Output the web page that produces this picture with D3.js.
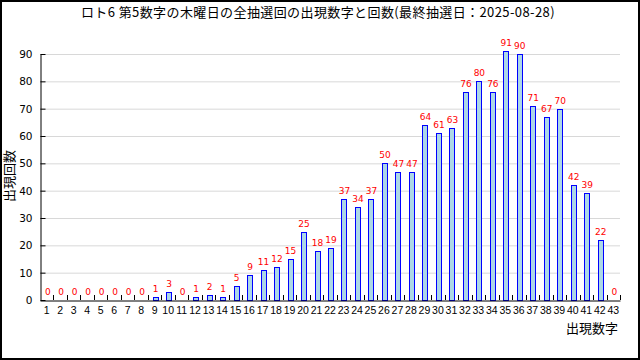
<!DOCTYPE html>
<html>
<head>
<meta charset="utf-8">
<script src="https://cdn.jsdelivr.net/npm/d3@7"></script>
<style>
  body { margin: 0; background: #fff; }
  svg { display: block; }
</style>
</head>
<body>
<div class="canvas"></div>
<script>
// data
const numbers = d3.range(1, 44).map(String)
const counts = [0, 0, 0, 0, 0, 0, 0, 0, 1, 3,
                0, 1, 2, 1, 5, 9, 11, 12, 15, 25,
                18, 19, 37, 34, 37, 50, 47, 47, 64, 61,
                63, 76, 80, 76, 91, 90, 71, 67, 70, 42,
                39, 22, 0]
const yTicks = [0, 10, 20, 30, 40, 50, 60, 70, 80, 90]
const title = 'ロト6 第5数字の木曜日の全抽選回の出現数字と回数(最終抽選日：2025-08-28)'

const data = numbers.map((n, i) => ({ n, v: counts[i] }))

const W = 640, H = 360
const margin = { top: 54, right: 20, bottom: 60, left: 40 }

const svg = d3.select('.canvas').append('svg')
  .attr('width', W)
  .attr('height', H)

// outer frame
svg.append('rect')
  .attr('x', 1).attr('y', 1)
  .attr('width', W - 2).attr('height', H - 2)
  .attr('fill', '#fff')
  .attr('stroke', '#000')
  .attr('stroke-width', 2)

svg.append('text')
  .attr('x', 318).attr('y', 17)
  .attr('text-anchor', 'middle')
  .attr('font-family', '"Noto Sans CJK JP", sans-serif')
  .attr('font-size', 13)
  .attr('letter-spacing', 0.4)
  .text(title)

const x = d3.scaleBand()
  .domain(numbers)
  .range([margin.left, W - margin.right])
  .paddingInner(0)

const y = d3.scaleLinear()
  .domain([0, 90])
  .range([H - margin.bottom, margin.top])

// grid lines
svg.append('g')
  .selectAll('line')
  .data(yTicks.slice(1))
  .enter().append('line')
  .attr('x1', margin.left)
  .attr('x2', W - margin.right)
  .attr('y1', d => y(d) + 0.5)
  .attr('y2', d => y(d) + 0.5)
  .attr('stroke', '#d8d8d8')

// y axis
const yAxis = svg.append('g')
  .attr('transform', `translate(${margin.left + 0.5},0)`)
  .call(d3.axisLeft(y).tickValues(yTicks).tickSizeInner(-5).tickSizeOuter(0).tickPadding(8))
yAxis.select('.domain').attr('stroke', '#000')
yAxis.selectAll('.tick line').attr('stroke', '#000')
yAxis.selectAll('text')
  .attr('font-family', '"DejaVu Sans", sans-serif')
  .attr('font-size', 10.5)
  .attr('fill', '#000')

// bars
const bw = 6
svg.append('g')
  .selectAll('rect')
  .data(data.filter(d => d.v > 0))
  .enter().append('rect')
  .attr('x', d => Math.round(x(d.n) + x.bandwidth() / 2 - bw / 2 + 1) + 0.5)
  .attr('y', d => Math.round(y(d.v)) + 0.5)
  .attr('width', bw - 1)
  .attr('height', d => Math.round(y(0)) - Math.round(y(d.v)))
  .attr('fill', '#add8e6')
  .attr('stroke', '#0000ff')
  .attr('stroke-width', 1)

// value labels
svg.append('g')
  .selectAll('text')
  .data(data)
  .enter().append('text')
  .attr('x', d => x(d.n) + x.bandwidth() / 2 + 1)
  .attr('y', d => y(d.v) - 5)
  .attr('text-anchor', 'middle')
  .attr('font-family', '"DejaVu Sans", sans-serif')
  .attr('font-size', 9)
  .attr('fill', '#ff0000')
  .text(d => d.v)

// x axis
const xAxis = svg.append('g')
  .attr('transform', `translate(0,${H - margin.bottom + 0.5})`)
  .call(d3.axisBottom(x).tickSize(0).tickPadding(6))
xAxis.select('.domain').attr('stroke', '#000')
xAxis.selectAll('text')
  .attr('font-family', '"Liberation Sans", sans-serif')
  .attr('font-size', 10.5)
  .attr('fill', '#000')

// ticks at band boundaries, pointing inward
svg.append('g')
  .selectAll('line')
  .data(numbers)
  .enter().append('line')
  .attr('x1', d => Math.round(x(d) + x.bandwidth()) + 0.5)
  .attr('x2', d => Math.round(x(d) + x.bandwidth()) + 0.5)
  .attr('y1', H - margin.bottom)
  .attr('y2', H - margin.bottom - 5)
  .attr('stroke', '#000')

// axis titles
svg.append('text')
  .attr('transform', 'translate(14,176) rotate(-90)')
  .attr('text-anchor', 'middle')
  .attr('font-family', '"Noto Sans CJK JP", sans-serif')
  .attr('font-size', 13)
  .text('出現回数')

svg.append('text')
  .attr('x', 618).attr('y', 333)
  .attr('text-anchor', 'end')
  .attr('font-family', '"Noto Sans CJK JP", sans-serif')
  .attr('font-size', 13)
  .text('出現数字')
</script>
</body>
</html>
